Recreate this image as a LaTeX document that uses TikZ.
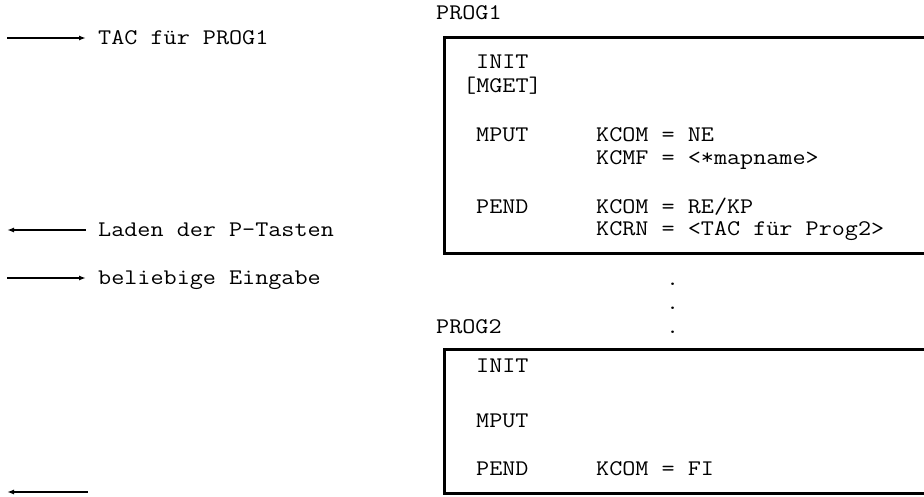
\documentclass[tikz,border=0pt]{standalone}
\usepackage{fontspec}
\setmonofont[FakeStretch=1.14]{Latin Modern Mono}
\usetikzlibrary{arrows.meta,positioning}

\begin{document}
\begin{tikzpicture}[x=1pt,y=-1pt,>={Latex[length=7pt,width=5pt]},
  txt/.style={font=\fontsize{22.3}{26}\selectfont\ttfamily,inner sep=0pt,anchor=base west},
  arr/.style={line width=1.7pt,shorten >=12pt},
  box/.style={line width=3pt}]
\useasboundingbox (0,0) rectangle (924,496);
% terminal side
\node[txt] (tac) at (98,44) {TAC für PROG1};
\node[txt] (lad) at (98,236) {Laden der P-Tasten};
\node[txt] (bel) at (98,284) {beliebige Eingabe};
\coordinate (tac0) at (7,38); \coordinate (lad0) at (7,230);
\coordinate (bel0) at (7,278);
\coordinate (end0) at (7,492); \coordinate (end1) at (88,492);
\draw[arr,->] (tac0) -- (tac0 -| tac.west);
\draw[arr,<-] (lad0) -- (lad0 -| lad.west);
\draw[arr,->] (bel0) -- (bel0 -| bel.west);
\draw[line width=1.7pt,<-] (end0) -- (end1);
% PROG1
\node[txt] (prog1) at (436,19) {PROG1};
\draw[box] (924,37.5) -| (444.5,253) -- (924,253);
\node[txt] (init1) at (476,68) {INIT};
\node[txt] (mget) at (463,92) {[MGET]};
\node[txt] (mput1) at (476,141) {MPUT};
\node[txt] (kcom1) at (596,141) {KCOM = NE};
\node[txt] (kcmf) at (596,164) {KCMF = <*mapname>};
\node[txt] (pend1) at (476,213) {PEND};
\node[txt] (kcom2) at (596,213) {KCOM = RE/KP};
\node[txt] (kcrn) at (596,235) {KCRN = <TAC für Prog2>};
% dots
\foreach \y [count=\i] in {285,309,333}
  \node[txt] (dot\i) at (666,\y) {.};
% PROG2
\node[txt] (prog2) at (436,333) {PROG2};
\draw[box] (924,349.5) -| (444.5,493) -- (924,493);
\node[txt] (init2) at (476,372) {INIT};
\node[txt] (mput2) at (476,427) {MPUT};
\node[txt] (pend2) at (476,475) {PEND};
\node[txt] (kcom3) at (596,475) {KCOM = FI};
\end{tikzpicture}
\end{document}
